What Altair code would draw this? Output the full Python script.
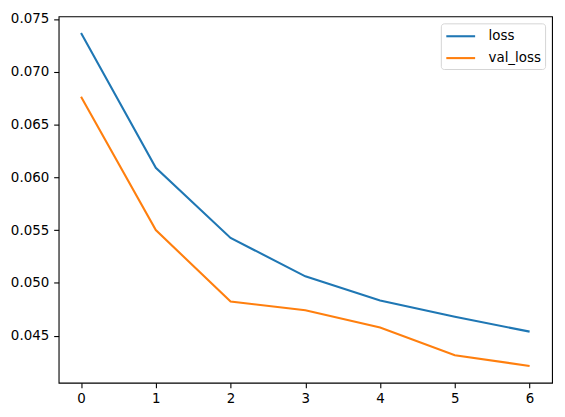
import altair as alt
import pandas as pd

epochs = [0, 1, 2, 3, 4, 5, 6]
loss = [0.07366, 0.06090, 0.05426, 0.05062, 0.04832, 0.04678, 0.04538]
val_loss = [0.06763, 0.05500, 0.04823, 0.04741, 0.04577, 0.04314, 0.04213]
series_names = ["loss", "val_loss"]
series_colors = ["#1f77b4", "#ff7f0e"]
y_ticks = [0.045, 0.050, 0.055, 0.060, 0.065, 0.070, 0.075]

rows = []
for name, vals in zip(series_names, [loss, val_loss]):
    for e, v in zip(epochs, vals):
        rows.append({"epoch": e, "value": v, "series": name})
df = pd.DataFrame(rows)

FONT = "DejaVu Sans"
FS = 13.5

chart = alt.Chart(df).mark_line(strokeWidth=2.1).encode(
    x=alt.X("epoch:Q",
            scale=alt.Scale(domain=[-0.3, 6.3], nice=False, zero=False),
            axis=alt.Axis(values=epochs, format="d", title=None, grid=False, domain=False,
                          tickSize=5, tickWidth=1.1, tickColor="black", labelPadding=4,
                          labelColor="black", labelFont=FONT, labelFontSize=FS)),
    y=alt.Y("value:Q",
            scale=alt.Scale(domain=[0.04054, 0.07524], nice=False, zero=False),
            axis=alt.Axis(values=y_ticks, format=".3f", title=None, grid=False, domain=False,
                          tickSize=5, tickWidth=1.1, tickColor="black", labelPadding=5,
                          labelColor="black", labelFont=FONT, labelFontSize=FS)),
    color=alt.Color("series:N",
                    scale=alt.Scale(domain=series_names, range=series_colors),
                    legend=alt.Legend(title=None, orient="top-right", offset=7,
                                      symbolType="M-1,0H2.87", symbolSize=225, symbolStrokeWidth=2.1,
                                      labelFont=FONT, labelFontSize=FS, labelColor="black",
                                      labelOffset=26, rowPadding=6, padding=4,
                                      strokeColor="#d5d5d5", fillColor="white", cornerRadius=3)),
).properties(
    width=497,
    height=369,
    autosize=alt.AutoSizeParams(type="none"),
    padding={"left": 51, "top": 7, "right": 5, "bottom": 25},
).configure_view(
    stroke="black", strokeWidth=1.1
)

chart.save("out.html", embed_options={"renderer": "svg", "actions": False})
